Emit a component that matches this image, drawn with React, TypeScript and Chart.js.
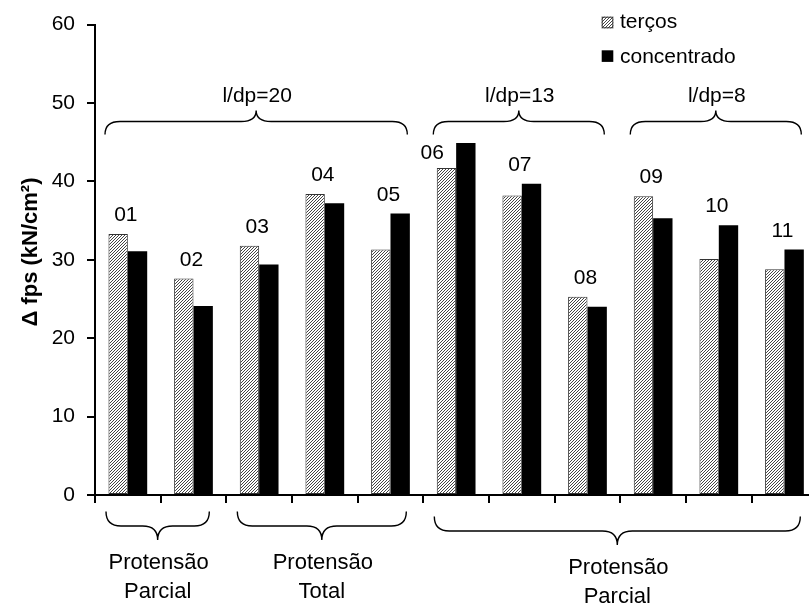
import React, { useEffect, useRef } from 'react';
import { Chart, registerables } from 'chart.js';

Chart.register(...registerables);

const categories = ['01', '02', '03', '04', '05', '06', '07', '08', '09', '10', '11'];
const tercos = [33.3, 27.6, 31.8, 38.4, 31.3, 41.7, 38.2, 25.3, 38.1, 30.1, 28.8];
const concentrado = [31.1, 24.1, 29.4, 37.2, 35.9, 44.9, 39.7, 24.0, 35.3, 34.4, 31.3];
const yTickValues = [0, 10, 20, 30, 40, 50, 60];
const seriesNames = ['terços', 'concentrado'];
const yTitle = 'Δ fps (kN/cm²)';

const topGroupLabels = ['l/dp=20', 'l/dp=13', 'l/dp=8'];
const topGroupFirst = [0, 5, 8];
const topGroupLast = [4, 7, 10];

const bottomGroupLabels = [['Protensão', 'Parcial'], ['Protensão', 'Total'], ['Protensão', 'Parcial']];
const bottomGroupFirst = [0, 2, 5];
const bottomGroupLast = [1, 4, 10];

const FONT = '"Liberation Sans", Arial, Helvetica, sans-serif';

function makeHatch(ctx: CanvasRenderingContext2D): CanvasPattern | string {
  const c = document.createElement('canvas');
  c.width = 3;
  c.height = 3;
  const g = c.getContext('2d');
  if (!g) return '#bbb';
  g.fillStyle = '#ffffff';
  g.fillRect(0, 0, 3, 3);
  g.fillStyle = '#444444';
  g.fillRect(2, 0, 1, 1);
  g.fillRect(1, 1, 1, 1);
  g.fillRect(0, 2, 1, 1);
  return ctx.createPattern(c, 'repeat') || '#bbb';
}

function drawBrace(ctx: CanvasRenderingContext2D, x1: number, x2: number, yFlat: number, yEnd: number, yTip: number) {
  const xm = (x1 + x2) / 2;
  const r = 15;
  ctx.beginPath();
  ctx.moveTo(x1, yEnd);
  ctx.quadraticCurveTo(x1, yFlat, x1 + r, yFlat);
  ctx.lineTo(xm - r, yFlat);
  ctx.quadraticCurveTo(xm, yFlat, xm, yTip);
  ctx.quadraticCurveTo(xm, yFlat, xm + r, yFlat);
  ctx.lineTo(x2 - r, yFlat);
  ctx.quadraticCurveTo(x2, yFlat, x2, yEnd);
  ctx.stroke();
}

export default function App() {
  const ref = useRef<HTMLCanvasElement | null>(null);

  useEffect(() => {
    const canvas = ref.current;
    if (!canvas) return;
    const ctx = canvas.getContext('2d');
    if (!ctx) return;
    const hatch = makeHatch(ctx);

    const extras = {
      id: 'extras',
      afterDraw(chart: any) {
        const c: CanvasRenderingContext2D = chart.ctx;
        const xs = chart.scales.x;
        const ys = chart.scales.y;
        const area = chart.chartArea;
        const cw = (area.right - area.left) / categories.length;
        c.save();
        c.fillStyle = '#000';
        c.strokeStyle = '#000';

        // category labels above bars
        c.font = `21px ${FONT}`;
        c.textAlign = 'center';
        c.textBaseline = 'alphabetic';
        categories.forEach((lab, i) => {
          const cx = xs.getPixelForValue(i);
          if (i === 5) {
            c.fillText(lab, cx - 24, ys.getPixelForValue(tercos[i]) - 9);
          } else {
            const v = Math.max(tercos[i], concentrado[i]);
            c.fillText(lab, cx - 2, ys.getPixelForValue(v) - 13);
          }
        });

        // top braces
        c.lineWidth = 1.4;
        topGroupLabels.forEach((lab, k) => {
          const x1 = area.left + topGroupFirst[k] * cw + 10;
          const x2 = area.left + (topGroupLast[k] + 1) * cw - 16;
          drawBrace(c, x1, x2, 121.5, 134.5, 110.5);
          c.fillText(lab, (x1 + x2) / 2 + 1, 102);
        });

        // bottom braces
        c.font = `22px ${FONT}`;
        bottomGroupLabels.forEach((lines, k) => {
          const x1 = area.left + bottomGroupFirst[k] * cw + 11;
          const x2 = area.left + (bottomGroupLast[k] + 1) * cw - 17;
          const shift = k === 2 ? 5 : 0;
          drawBrace(c, x1, x2, 526 + shift, 511.5 + shift, 540 + shift);
          c.fillText(lines[0], (x1 + x2) / 2 + 1, 569 + shift);
          c.fillText(lines[1], (x1 + x2) / 2, 597.5 + shift);
        });

        // legend
        const lx = 601.7;
        c.lineWidth = 1;
        c.fillStyle = hatch as any;
        c.fillRect(lx, 16.7, 11.6, 11.6);
        c.strokeStyle = '#333';
        c.strokeRect(lx + 0.5, 17.2, 10.6, 10.6);
        c.fillStyle = '#000';
        c.fillRect(lx, 50.3, 11.6, 11.6);
        c.textAlign = 'left';
        c.font = `21px ${FONT}`;
        c.fillText(seriesNames[0], 620, 28.3);
        c.fillText(seriesNames[1], 620, 63);

        // y title
        c.save();
        c.translate(31, 252);
        c.rotate(-Math.PI / 2);
        c.textAlign = 'center';
        c.textBaseline = 'middle';
        c.font = `bold 22px ${FONT}`;
        c.fillText(yTitle, 0, 0);
        c.restore();

        c.restore();
      },
    };

    const chart = new Chart(canvas, {
      type: 'bar',
      data: {
        labels: categories,
        datasets: [
          {
            label: seriesNames[0],
            data: tercos,
            backgroundColor: hatch as any,
            borderColor: '#333',
            borderWidth: 1,
            borderSkipped: false,
          },
          {
            label: seriesNames[1],
            data: concentrado,
            backgroundColor: '#000',
            borderWidth: 0,
          },
        ],
      },
      options: {
        responsive: false,
        animation: false,
        events: [],
        layout: { padding: { top: 24.3, right: 12.7, bottom: 0, left: 0 } },
        datasets: { bar: { categoryPercentage: 0.59, barPercentage: 1.0 } },
        plugins: { legend: { display: false }, tooltip: { enabled: false }, title: { display: false } },
        scales: {
          x: {
            type: 'category',
            offset: true,
            grid: { offset: true, drawOnChartArea: false, drawTicks: true, tickLength: 8, color: '#000', lineWidth: 2 },
            border: { display: true, color: '#000', width: 2 },
            ticks: { display: false },
            afterFit: (s: any) => { s.height = 109; },
          },
          y: {
            type: 'linear',
            min: 0,
            max: 60,
            afterBuildTicks: (s: any) => { s.ticks = yTickValues.map((v) => ({ value: v })); },
            ticks: { color: '#000', font: { size: 21, family: FONT }, padding: 12 },
            grid: { drawOnChartArea: false, drawTicks: true, tickLength: 8, color: '#000', lineWidth: 2 },
            border: { display: true, color: '#000', width: 2 },
            afterFit: (s: any) => { s.width = 95; },
          },
        },
      } as any,
      plugins: [extras],
    });
    return () => chart.destroy();
  }, []);

  return (
    <div style={{ position: 'fixed', left: 0, top: 0, width: 809, height: 604, overflow: 'hidden', background: '#fff' }}>
      <div style={{ position: 'relative', width: 830, height: 604 }}>
        <canvas ref={ref} width={830} height={604} style={{ display: 'block', width: 830, height: 604 }} />
      </div>
    </div>
  );
}
